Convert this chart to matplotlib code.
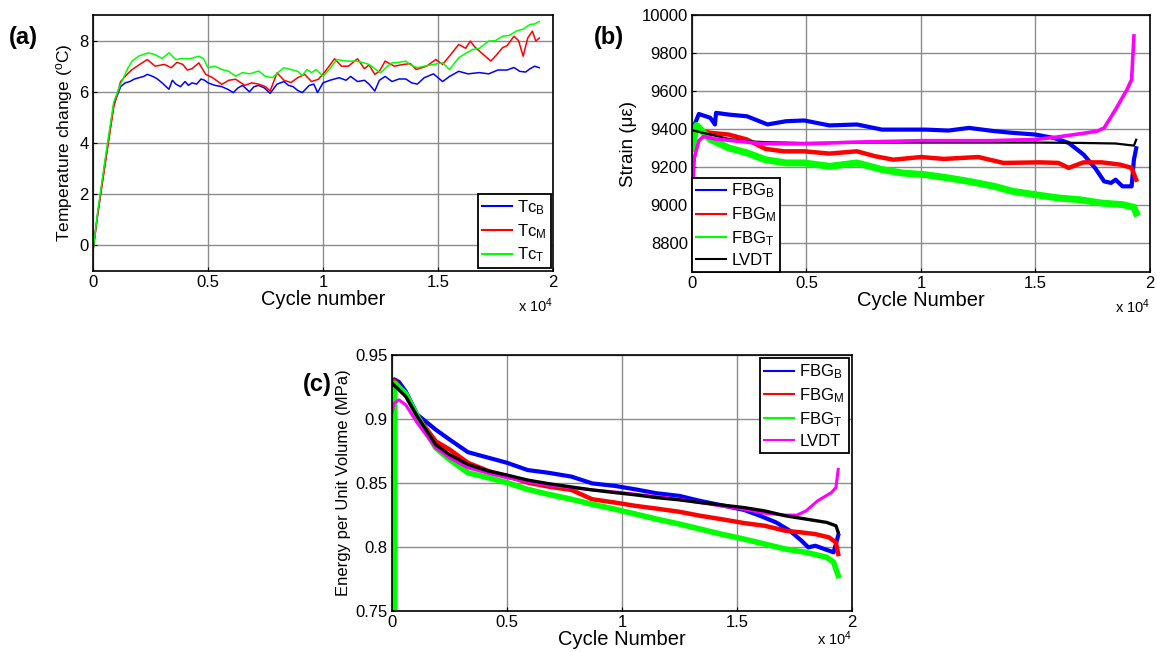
import numpy as np
import matplotlib.pyplot as plt

plt.rcParams['font.family'] = ['Liberation Sans', 'DejaVu Sans']
plt.rcParams['mathtext.fontset'] = 'custom'
plt.rcParams['mathtext.rm'] = 'Liberation Sans'
plt.rcParams['mathtext.it'] = 'Liberation Sans:italic'

# ---- (a) temperature change, cycles vs deg C ----
a_cyc_B = [0, 200, 500, 900, 1200, 1400, 1600, 1800, 2000, 2200, 2360, 2600, 2800, 3000,
           3300, 3450, 3600, 3800, 4000, 4150, 4300, 4500, 4700, 4850, 5000, 5300, 5600,
           5850, 6100, 6300, 6500, 6800, 7000, 7200, 7450, 7700, 8000, 8300, 8500, 8700,
           8900, 9100, 9400, 9600, 9760, 10000, 10300, 10700, 11000, 11200, 11500, 11800,
           12000, 12250, 12450, 12700, 13000, 13300, 13600, 13850, 14100, 14400, 14800,
           15200, 15500, 15900, 16300, 16800, 17200, 17600, 18000, 18300, 18550, 18800,
           19000, 19200, 19400]
a_val_B = [-0.2, 1.2, 3.1, 5.5, 6.2, 6.35, 6.4, 6.5, 6.55, 6.6, 6.68, 6.6, 6.5, 6.35,
           6.1, 6.45, 6.3, 6.2, 6.4, 6.25, 6.35, 6.3, 6.5, 6.45, 6.35, 6.25, 6.2,
           6.1, 5.97, 6.15, 6.25, 6.0, 6.2, 6.25, 6.15, 5.94, 6.3, 6.4, 6.25, 6.2,
           6.05, 5.97, 6.25, 6.3, 5.97, 6.35, 6.45, 6.55, 6.45, 6.6, 6.4, 6.45,
           6.3, 6.03, 6.45, 6.6, 6.4, 6.5, 6.5, 6.35, 6.3, 6.55, 6.7,
           6.4, 6.6, 6.8, 6.7, 6.75, 6.7, 6.85, 6.85, 6.95, 6.8, 6.77,
           6.9, 7.0, 6.94]

a_cyc_M = [0, 200, 500, 900, 1200, 1500, 1700, 2000, 2360, 2700, 3100, 3400, 3650, 3900,
           4100, 4300, 4600, 4900, 5200, 5600, 5900, 6200, 6600, 6900, 7200, 7500, 7700,
           8000, 8300, 8600, 8900, 9200, 9500, 9800, 10100, 10500, 10800, 11100, 11500,
           11800, 12000, 12250, 12450, 12700, 13100, 13500, 13800, 14050, 14500, 14900,
           15200, 15500, 15900, 16200, 16400, 16600, 16800, 17100, 17300, 17600, 17800,
           18000, 18300, 18500, 18700, 18900, 19100, 19250, 19400]
a_val_M = [-0.2, 1.2, 3.0, 5.4, 6.4, 6.7, 6.87, 7.05, 7.26, 7.0, 7.07, 6.94, 7.15, 7.07,
           6.85, 6.9, 7.13, 6.68, 6.55, 6.29, 6.45, 6.49, 6.25, 6.35, 6.3, 6.2, 6.03,
           6.74, 6.45, 6.36, 6.55, 6.68, 6.4, 6.49, 6.8, 7.29, 7.0, 7.0, 7.29,
           6.9, 7.05, 6.68, 6.8, 7.2, 7.0, 7.07, 7.1, 6.87, 7.0, 7.26,
           7.07, 7.4, 7.85, 7.7, 7.98, 7.75, 7.59, 7.35, 7.2, 7.5, 7.72,
           7.8, 8.17, 8.0, 7.39, 8.1, 8.37, 7.98, 8.1]

a_cyc_T = [0, 200, 500, 900, 1200, 1500, 1700, 2000, 2400, 2700, 3000, 3300, 3600, 3900,
           4200, 4600, 4800, 5000, 5300, 5600, 5900, 6200, 6500, 6800, 7200, 7500, 7800,
           8100, 8300, 8600, 8900, 9100, 9300, 9500, 9700, 10000, 10300, 10600, 11000,
           11400, 11700, 12000, 12250, 12500, 12800, 13000, 13300, 13600, 13800, 14100,
           14400, 14800, 15200, 15500, 15700, 15900, 16200, 16500, 16800, 17200, 17500,
           17800, 18100, 18400, 18700, 19000, 19200, 19400]
a_val_T = [-0.2, 1.3, 3.2, 5.6, 6.3, 6.9, 7.2, 7.4, 7.52, 7.45, 7.3, 7.52, 7.26, 7.3,
           7.29, 7.39, 7.3, 6.94, 7.0, 6.87, 6.8, 6.61, 6.75, 6.7, 6.81, 6.6, 6.55,
           6.8, 6.94, 6.87, 6.8, 6.64, 6.87, 6.75, 6.87, 6.61, 6.9, 7.26, 7.2,
           7.2, 7.15, 7.07, 6.9, 6.74, 7.0, 7.13, 7.15, 7.2, 7.05, 6.94,
           7.0, 7.07, 7.13, 6.87, 7.1, 7.33, 7.5, 7.65, 7.7, 7.98, 8.0,
           8.17, 8.2, 8.37, 8.45, 8.63, 8.65, 8.75]

# ---- (b) strain, cycles vs microstrain ----
b_cyc_B = [0, 300, 800, 1000, 1050, 1600, 2400, 3300, 4100, 4900, 6000, 7200, 8300, 9200,
           10200, 11200, 12100, 13200, 14000, 15000, 15800, 16450, 17100, 17600, 18000,
           18300, 18500, 18800, 19200, 19300, 19400]
b_val_B = [9390, 9480, 9460, 9425, 9486, 9477, 9468, 9425, 9442, 9446, 9420, 9425, 9398, 9398,
           9398, 9393, 9407, 9390, 9381, 9372, 9354, 9328, 9267, 9197, 9126,
           9118, 9135, 9100, 9100, 9240, 9300]

b_cyc_M = [0, 200, 800, 1600, 2400, 3200, 4000, 4900, 6000, 7200, 8000, 8800, 10000, 11000,
           12500, 13600, 15200, 16000, 16450, 17100, 17900, 18700, 19200, 19400]
b_val_M = [9300, 9400, 9381, 9372, 9346, 9297, 9284, 9284, 9272, 9284, 9258, 9240, 9254, 9244,
           9254, 9223, 9226, 9223, 9197, 9226, 9226, 9214, 9197, 9135]

b_cyc_T = [0, 200, 800, 1600, 2400, 3200, 4100, 4900, 6000, 7200, 8300, 9200, 10200, 11200,
           12100, 13200, 14000, 15000, 16000, 16900, 17900, 18800, 19300, 19400]
b_val_T = [9300, 9420, 9346, 9302, 9276, 9240, 9223, 9223, 9205, 9223, 9188, 9170, 9161, 9144,
           9126, 9100, 9074, 9056, 9039, 9030, 9012, 9004, 8990, 8960]

b_cyc_LVDT = [0, 800, 1600, 2400, 3200, 4800, 8000, 12000, 15000, 17000, 18500, 19300, 19400]
b_val_LVDT = [9395, 9372, 9349, 9337, 9332, 9328, 9330, 9330, 9330, 9328, 9325, 9314, 9345]

b_cyc_P = [0, 100, 300, 500, 1000, 2000, 3000, 5000, 7000, 10000, 13000, 15000, 16000,
           17000, 17700, 18000, 18500, 19000, 19200, 19300]
b_val_P = [9000, 9250, 9340, 9362, 9349, 9337, 9325, 9323, 9332, 9340, 9340, 9346, 9360,
           9377, 9390, 9407, 9504, 9609, 9661, 9890]

# ---- (c) energy per unit volume, cycles vs MPa ----
c_cyc_B = [0, 100, 300, 600, 1100, 1900, 2500, 3300, 4200, 5000, 5900, 6800, 7800, 8700,
           9700, 10600, 11500, 12500, 13400, 14300, 15300, 16000, 16700, 17300, 17800,
           18100, 18400, 18800, 19200, 19400]
c_val_B = [0.925, 0.931, 0.929, 0.9215, 0.9034, 0.8917, 0.884, 0.8741, 0.8697, 0.8658,
           0.8601, 0.858, 0.855, 0.8497, 0.8477, 0.845, 0.842, 0.8399, 0.836, 0.8327,
           0.829, 0.8244, 0.8192, 0.8127, 0.805, 0.7997, 0.801, 0.7984, 0.7958, 0.809]

c_cyc_M = [0, 100, 600, 1100, 1900, 2500, 3300, 4200, 5000, 5900, 6800, 7800, 8700, 9700,
           10600, 11500, 12500, 13400, 14300, 15300, 16200, 17100, 17800, 18400, 19000,
           19300, 19400]
c_val_M = [0.925, 0.93, 0.919, 0.902, 0.8826, 0.8762, 0.8658, 0.8593, 0.8554, 0.8503,
           0.8472, 0.8446, 0.8373, 0.8347, 0.8321, 0.830, 0.8275, 0.8244, 0.8218, 0.8187,
           0.8166, 0.8127, 0.8114, 0.8101, 0.8075, 0.8036, 0.7945]

c_cyc_T = [120, 120, 600, 1100, 1900, 2500, 3300, 4200, 5000, 5900, 6800, 7800, 8700, 9700,
           10600, 11500, 12500, 13400, 14300, 15300, 16200, 17100, 18000, 18900, 19200, 19400]
c_val_T = [0.74, 0.928, 0.9197, 0.902, 0.8775, 0.8684, 0.858, 0.8541, 0.8503, 0.845,
           0.8412, 0.8373, 0.8334, 0.8295, 0.8257, 0.8218, 0.8179, 0.814, 0.8101, 0.8062,
           0.8023, 0.7984, 0.7958, 0.792, 0.788, 0.7777]

c_cyc_LVDT = [0, 100, 300, 600, 1100, 1900, 2500, 3300, 4200, 5000, 5900, 6800, 7800, 8700,
              9700, 10600, 11500, 12500, 13400, 14300, 15300, 16200, 17100, 17600, 18000,
              18500, 19100, 19300, 19400]
c_val_LVDT = [0.905, 0.9124, 0.915, 0.911, 0.8969, 0.8775, 0.8697, 0.8619, 0.8575, 0.8541,
              0.851, 0.8482, 0.8464, 0.8446, 0.843, 0.8412, 0.8394, 0.8373, 0.8347, 0.8321,
              0.8295, 0.8264, 0.8249, 0.8249, 0.8282, 0.836, 0.8425, 0.8464, 0.8606]

c_cyc_K = [0, 600, 1100, 1900, 2500, 3300, 4200, 5000, 5900, 6800, 7800, 8700, 9700, 10600,
           11500, 12500, 13400, 14300, 15300, 16200, 17100, 18000, 18900, 19300, 19400]
c_val_K = [0.928, 0.9176, 0.902, 0.88, 0.8722, 0.8645, 0.8593, 0.8562, 0.8523, 0.8495,
           0.8469, 0.8446, 0.8425, 0.8407, 0.8386, 0.8368, 0.8347, 0.8329, 0.8308, 0.8282,
           0.8244, 0.8218, 0.8192, 0.8166, 0.8114]

x_ticks = [0, 0.5, 1, 1.5, 2]
x_ticklabels = ['0', '0.5', '1', '1.5', '2']
c_yticks = [0.75, 0.8, 0.85, 0.9, 0.95]
c_yticklabels = ['0.75', '0.8', '0.85', '0.9', '0.95']

BLUE, RED, GREEN, MAG = '#0000ff', '#ff0000', '#00ff00', '#ff00ff'


def k(c):
    # cycles shown in units of 10^4
    return np.array(c) / 1e4


def style(ax, ylim, yticks, xlabel, ylabel, ylab_size, tag, tag_xy, exp_y=-0.135):
    ax.set_xlim(0, 2)
    ax.set_ylim(*ylim)
    ax.set_xticks(x_ticks)
    ax.set_xticklabels(x_ticklabels)
    ax.set_yticks(yticks)
    ax.grid(True, color='#8c8c8c', linewidth=1.0)
    ax.set_axisbelow(True)
    ax.tick_params(direction='in', length=3, labelsize=12, pad=3)
    for s in ax.spines.values():
        s.set_linewidth(1.2)
    ax.set_xlabel(xlabel, fontsize=14.5, labelpad=0)
    ax.set_ylabel(ylabel, fontsize=ylab_size, labelpad=3)
    ax.text(1.0, exp_y, r'x 10$^{4}$', transform=ax.transAxes, ha='right', va='center', fontsize=10.5)
    fig.text(tag_xy[0], tag_xy[1], tag, fontsize=17, fontweight='bold', ha='left', va='center')


def legend(ax, loc, pad):
    lg = ax.legend(loc=loc, fontsize=12, handlelength=1.8, handletextpad=0.3,
                   labelspacing=0.3, borderpad=0.25, borderaxespad=pad, fancybox=False,
                   framealpha=1, edgecolor='black')
    lg.get_frame().set_linewidth(1.3)
    for h in lg.get_lines():
        h.set_linewidth(1.5)
    return lg


fig = plt.figure(figsize=(11.57, 6.52), dpi=100)

ax1 = fig.add_axes([0.0804, 0.5844, 0.3976, 0.3926])
ax1.plot(k(a_cyc_B), a_val_B, color=BLUE, lw=1.1, label=r'Tc$_\mathrm{B}$')
ax1.plot(k(a_cyc_M), a_val_M, color=RED, lw=1.1, label=r'Tc$_\mathrm{M}$')
ax1.plot(k(a_cyc_T), a_val_T, color=GREEN, lw=1.1, label=r'Tc$_\mathrm{T}$')
style(ax1, (-1, 9), [0, 2, 4, 6, 8], 'Cycle number', r'Temperature change ($^{\mathrm{o}}$C)', 12.5,
      '(a)', (0.008, 0.942))
legend(ax1, 'lower right', 0.15)

ax2 = fig.add_axes([0.5981, 0.5828, 0.3958, 0.3942])
ax2.plot(k(b_cyc_B), b_val_B, color=BLUE, lw=3.0, label=r'FBG$_\mathrm{B}$')
ax2.plot(k(b_cyc_M), b_val_M, color=RED, lw=3.2, label=r'FBG$_\mathrm{M}$')
ax2.plot(k(b_cyc_T), b_val_T, color=GREEN, lw=5.0, label=r'FBG$_\mathrm{T}$')
ax2.plot(k(b_cyc_LVDT), b_val_LVDT, color='black', lw=1.6, label='LVDT')
ax2.plot(k(b_cyc_P), b_val_P, color=MAG, lw=2.6)
style(ax2, (8650, 10000), [8800, 9000, 9200, 9400, 9600, 9800, 10000], 'Cycle Number',
      'Strain (\u03bc\u03b5)', 13.5, '(b)', (0.513, 0.942))
legend(ax2, 'lower left', 0.0)

ax3 = fig.add_axes([0.3388, 0.0629, 0.3976, 0.3926])
ax3.plot(k(c_cyc_B), c_val_B, color=BLUE, lw=3.0, label=r'FBG$_\mathrm{B}$')
ax3.plot(k(c_cyc_M), c_val_M, color=RED, lw=3.2, label=r'FBG$_\mathrm{M}$')
ax3.plot(k(c_cyc_T), c_val_T, color=GREEN, lw=4.0, label=r'FBG$_\mathrm{T}$')
ax3.plot(k(c_cyc_LVDT), c_val_LVDT, color=MAG, lw=2.2, label='LVDT')
ax3.plot(k(c_cyc_K), c_val_K, color='black', lw=2.4)
style(ax3, (0.75, 0.95), c_yticks, 'Cycle Number',
      'Energy per Unit Volume (MPa)', 12, '(c)', (0.262, 0.41), exp_y=-0.11)
ax3.set_yticklabels(c_yticklabels)
legend(ax3, 'upper right', 0.2)

fig.savefig('out.png', dpi=100)
